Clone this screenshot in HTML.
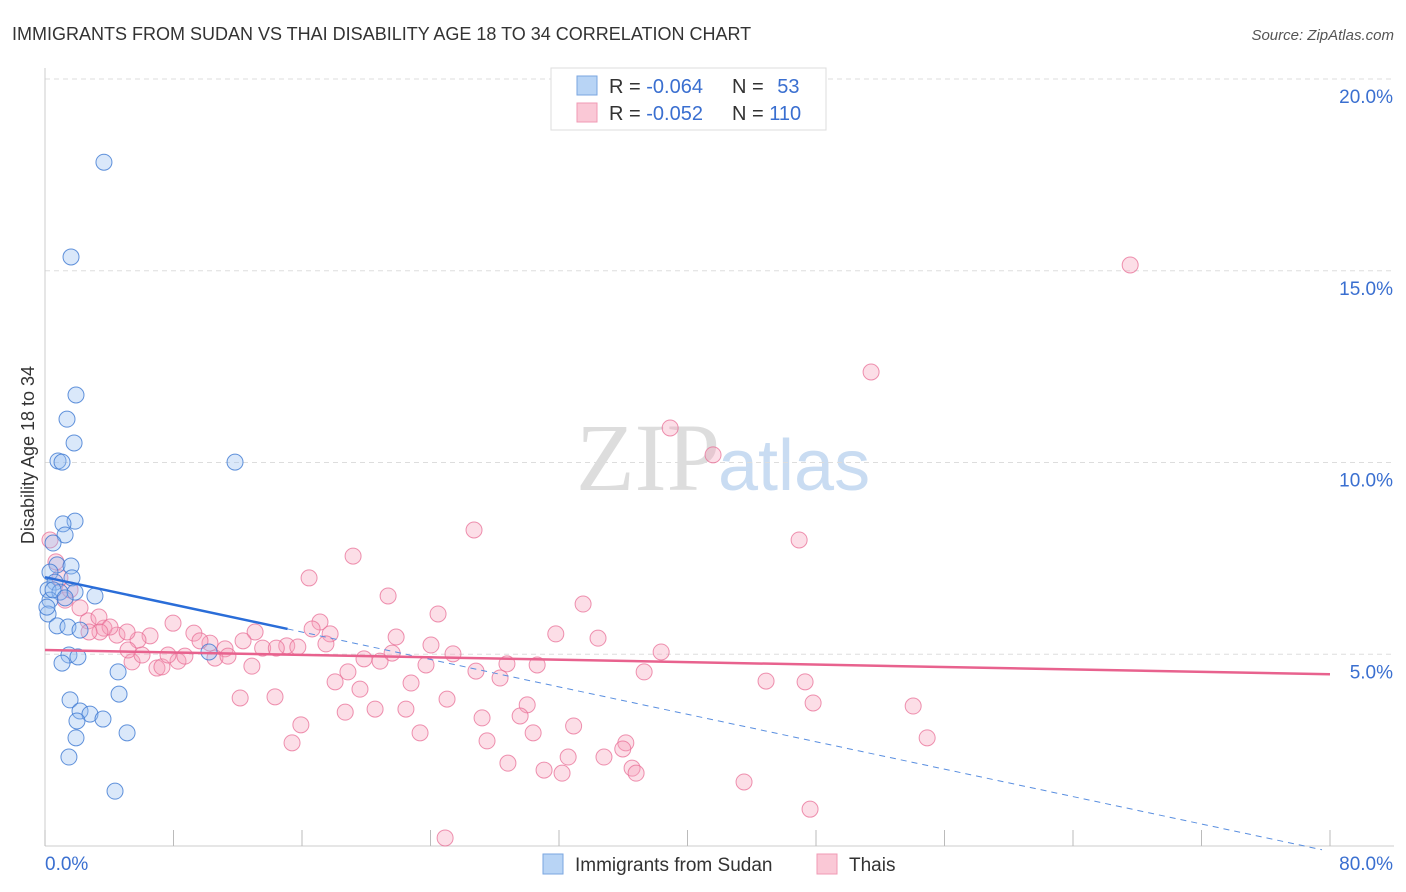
<!DOCTYPE html>
<html><head><meta charset="utf-8"><style>
body{margin:0;background:#fff;font-family:"Liberation Sans",sans-serif;}
svg{display:block}
</style></head><body>
<svg id="chart" width="1406" height="892" xmlns="http://www.w3.org/2000/svg">
<text x="12" y="40" font-size="18" fill="#333">IMMIGRANTS FROM SUDAN VS THAI DISABILITY AGE 18 TO 34 CORRELATION CHART</text>
<text x="1394" y="40" font-size="15" fill="#555" font-style="italic" text-anchor="end">Source: ZipAtlas.com</text>
<text x="720" y="490" font-size="96" fill="#ddd" font-family="Liberation Serif,serif" text-anchor="end">ZIP</text>
<text x="718" y="490" font-size="72" fill="#c9dcf2">atlas</text>
<g id="grid"></g>
<g id="axes"></g>
<g id="pts"></g>
<g id="trends"></g>
<text transform="translate(34,455) rotate(-90)" font-size="18" fill="#333" text-anchor="middle">Disability Age 18 to 34</text>
<g>
<rect x="551" y="68" width="275" height="62" fill="#fff" stroke="#ddd"/>
<rect x="577" y="76" width="20" height="19" fill="#b8d4f5" stroke="#7aa6e0"/>
<text x="609" y="93" font-size="20" fill="#333">R = <tspan fill="#3a6fd0">-0.064</tspan></text>
<text x="732" y="93" font-size="20" fill="#333">N = <tspan fill="#3a6fd0" dx="8">53</tspan></text>
<rect x="577" y="103" width="20" height="19" fill="#fac8d6" stroke="#f09ab4"/>
<text x="609" y="120" font-size="20" fill="#333">R = <tspan fill="#3a6fd0">-0.052</tspan></text>
<text x="732" y="120" font-size="20" fill="#333">N = <tspan fill="#3a6fd0">110</tspan></text>
</g>
<g>
<rect x="543" y="854" width="20" height="20" fill="#b8d4f5" stroke="#7aa6e0"/>
<text x="575" y="871" font-size="19" fill="#333">Immigrants from Sudan</text>
<rect x="817" y="854" width="20" height="20" fill="#fac8d6" stroke="#f09ab4"/>
<text x="849" y="871" font-size="19" fill="#333">Thais</text>
</g>
</svg>
<script>
const yTicks=[5,10,15,20];
const yTickLabels=["5.0%","10.0%","15.0%","20.0%"];
const xTicks=[0,8,16,24,32,40,48,56,64,72,80];
const blueX=[3.67,1.62,1.93,1.37,1.81,0.81,1.06,11.83,1.87,1.12,1.25,0.5,0.75,1.62,0.31,0.62,1.68,0.19,0.93,3.11,1.87,0.31,0.19,0.75,1.43,2.18,10.21,1.49,2.05,1.06,4.55,4.61,1.56,2.18,2.8,1.99,3.61,5.11,1.93,1.49,4.36,0.5,1.25,0.12];
const blueY=[17.83,15.36,11.76,11.13,10.51,10.04,10.01,10.01,8.47,8.4,8.11,7.9,7.33,7.3,7.14,6.88,6.99,6.68,6.62,6.52,6.62,6.41,6.05,5.74,5.71,5.63,5.06,4.98,4.93,4.77,4.54,3.96,3.81,3.52,3.44,3.26,3.31,2.95,2.82,2.32,1.43,6.68,6.47,6.23];
const pinkX=[67.56,51.43,38.92,41.59,26.71,46.95,19.18,16.44,21.36,33.5,24.47,17.12,7.97,31.8,34.43,21.86,17.75,16.63,9.27,6.54,5.79,4.48,3.67,2.68,3.36,2.18,1.25,1.56,0.93,0.68,0.31,13.08,12.33,10.27,9.65,11.21,13.55,15.05,15.74,14.4,17.49,24.03,25.4,19.86,20.86,21.61,23.72,18.86,18.06,19.61,22.79,26.83,28.76,30.64,28.33,38.36,37.3,44.89,47.32,47.82,54.05,54.92,25.03,30.02,20.55,18.69,22.47,15.93,27.21,29.58,32.91,23.35,27.52,30.39,36.16,35.97,15.38,34.8,32.57,28.82,31.07,32.19,36.55,36.8,43.52,47.63,24.91,12.15,14.32,5.42,6.97,7.28,8.28,8.71,10.58,11.39,12.88,5.17,6.04,7.66,4.05,5.11,3.42,2.74];
const pinkY=[15.15,12.36,10.9,10.2,8.24,7.98,7.56,6.99,6.52,6.31,6.05,5.84,5.81,5.53,5.42,5.45,5.53,5.66,5.55,5.48,5.37,5.5,5.68,5.87,5.97,6.21,6.41,6.68,6.99,7.41,7.98,5.58,5.35,5.29,5.35,5.14,5.16,5.22,5.19,5.16,5.27,5.24,5.01,4.88,4.82,5.03,4.72,4.54,4.28,4.09,4.25,4.56,4.75,4.72,4.38,5.06,4.54,4.3,4.28,3.73,3.65,2.82,3.83,3.68,3.57,3.49,3.57,3.16,3.34,3.39,3.13,2.95,2.74,2.95,2.69,2.53,2.69,2.32,2.32,2.16,1.98,1.9,2.03,1.9,1.67,0.96,0.21,3.86,3.89,4.8,4.64,4.67,4.82,4.95,4.9,4.95,4.69,5.11,4.98,4.98,5.71,5.58,5.58,5.58];
const blueTrend=[7.01,-0.0894];
const pinkTrend=[5.11,-0.0079];
const blueSolidEnd=15.1;
const NS="http://www.w3.org/2000/svg";
const sx=v=>45+v*16.0625, sy=v=>846-v*38.35;
function mk(tag,attrs,parent){const e=document.createElementNS(NS,tag);for(const k in attrs)e.setAttribute(k,attrs[k]);parent.appendChild(e);return e;}
const grid=document.getElementById('grid'),axes=document.getElementById('axes'),pts=document.getElementById('pts'),tr=document.getElementById('trends');
yTicks.forEach((t,i)=>{
 const l=mk('line',{x1:45,x2:1394,y1:sy(t),y2:sy(t),stroke:'#ddd','stroke-dasharray':'5,4'},grid);
 
 
 const tx=mk('text',{x:1393,y:sy(t)+24,'font-size':19,fill:'#3a6fd0','text-anchor':'end'},axes);
 tx.textContent=yTickLabels[i];
 
 
});
const la=mk('line',{x1:45,x2:45,y1:68,y2:846,stroke:'#ccc'},axes);


const lb=mk('line',{x1:45,x2:1394,y1:846,y2:846,stroke:'#ccc'},axes);


xTicks.forEach(t=>{
 const l=mk('line',{x1:sx(t),x2:sx(t),y1:830,y2:846,stroke:'#bbb'},axes);
 
 
});
const x0=mk('text',{x:45,y:870,'font-size':19,fill:'#3a6fd0'},axes);x0.textContent='0.0%';


const x1=mk('text',{x:1393,y:870,'font-size':19,fill:'#3a6fd0','text-anchor':'end'},axes);x1.textContent='80.0%';


pinkX.forEach((v,i)=>{
 const c=mk('circle',{cx:sx(v),cy:sy(pinkY[i]),r:8,fill:'rgba(245,160,185,0.35)',stroke:'rgba(232,110,150,0.75)','stroke-width':1},pts);
 
 
});
blueX.forEach((v,i)=>{
 const c=mk('circle',{cx:sx(v),cy:sy(blueY[i]),r:8,fill:'rgba(150,190,240,0.35)',stroke:'rgba(60,120,210,0.8)','stroke-width':1},pts);
 
 
});
const bt=v=>blueTrend[0]+blueTrend[1]*v, pt=v=>pinkTrend[0]+pinkTrend[1]*v;
const bs=mk('line',{x1:sx(0),y1:sy(bt(0)),x2:sx(blueSolidEnd),y2:sy(bt(blueSolidEnd)),stroke:'#2a6dd8','stroke-width':2.5},tr);


const bd=mk('line',{x1:sx(blueSolidEnd),y1:sy(bt(blueSolidEnd)),x2:sx(79.5),y2:sy(bt(79.5)),stroke:'#5a8fe0','stroke-width':1,'stroke-dasharray':'6,5'},tr);


const pl=mk('line',{x1:sx(0),y1:sy(pt(0)),x2:sx(80),y2:sy(pt(80)),stroke:'#e8628e','stroke-width':2.5},tr);


</script>
</body></html>
